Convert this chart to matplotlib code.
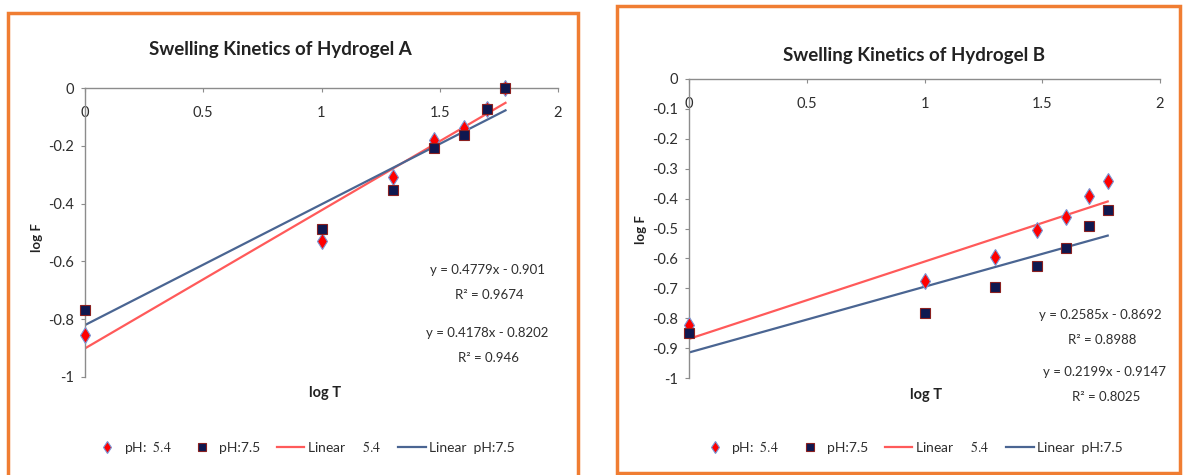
import matplotlib
matplotlib.use("Agg")
import matplotlib.pyplot as plt
from matplotlib.patches import Rectangle
from matplotlib.ticker import FuncFormatter

plt.rcParams['font.family'] = ['Lato', 'DejaVu Sans']
plt.rcParams['axes.unicode_minus'] = False
plt.rcParams['mathtext.fontset'] = 'stix'

# log of time (min): 1, 10, 20, 30, 40, 50, 60
log_t = [0, 1, 1.301, 1.477, 1.602, 1.699, 1.778]

# Hydrogel A
a_ph54 = [-0.855, -0.531, -0.308, -0.180, -0.140, -0.072, 0.0]
a_ph75 = [-0.767, -0.488, -0.352, -0.209, -0.163, -0.073, 0.0]
a_fit54 = (0.4779, -0.901, 0.9674)
a_fit75 = (0.4178, -0.8202, 0.946)

# Hydrogel B
b_ph54 = [-0.822, -0.677, -0.594, -0.504, -0.460, -0.391, -0.341]
b_ph75 = [-0.850, -0.783, -0.694, -0.627, -0.566, -0.493, -0.438]
b_fit54 = (0.2585, -0.8692, 0.8988)
b_fit75 = (0.2199, -0.9147, 0.8025)

W, H = 1186, 475
RED_PT = '#ff0000'
NAVY = '#0f1850'
RED_LINE = '#ff5a5a'
BLUE_LINE = '#4a6592'
GREY = '#8c8c8c'
ORANGE = '#f07d32'
TXT = '#222222'


def fx(px):
    return px / W


def fy(py):
    return 1 - py / H


def fmt(v, _):
    return '%g' % round(v, 2)


def fit_label(fit):
    m, c, r2 = fit
    return 'y = %gx - %g' % (m, abs(c)), 'R² = %g' % r2


def draw_panel(ax, y54, y75, fit54, fit75, ystep):
    xs = [log_t[0], log_t[-1]]
    ax.plot(xs, [fit54[0] * x + fit54[1] for x in xs], color=RED_LINE, lw=1.6,
            label=r'Linear     $\mathrm{5.4}$', zorder=2)
    ax.plot(xs, [fit75[0] * x + fit75[1] for x in xs], color=BLUE_LINE, lw=1.6,
            label='Linear  pH:7.5', zorder=2)
    ax.plot(log_t, y54, ls='none', marker='d', ms=8.5, mfc=RED_PT, mec='#7a96d6',
            mew=0.8, label=r'pH:  $\mathrm{5.4}$', zorder=3, clip_on=False)
    ax.plot(log_t, y75, ls='none', marker='s', ms=7.8, mfc=NAVY, mec='#8a2020',
            mew=0.8, label='pH:7.5', zorder=4, clip_on=False)

    ax.set_xlim(0, 2)
    ax.set_ylim(-1, 0)
    ax.set_xticks([0, 0.5, 1, 1.5, 2])
    n = int(round(1 / ystep))
    ax.set_yticks([-i * ystep for i in range(n + 1)])
    ax.xaxis.set_major_formatter(FuncFormatter(fmt))
    ax.yaxis.set_major_formatter(FuncFormatter(fmt))

    # x axis crosses at y = 0, which sits on top
    ax.spines['bottom'].set_position(('data', 0))
    ax.spines['top'].set_visible(False)
    ax.spines['right'].set_visible(False)
    for s in ('bottom', 'left'):
        ax.spines[s].set_color(GREY)
        ax.spines[s].set_linewidth(1.0)
    ax.tick_params(axis='both', colors=GREY, length=3, width=0.8,
                   labelcolor='#2e2e2e', labelsize=10.5)
    ax.tick_params(axis='x', pad=10)
    ax.tick_params(axis='y', pad=5)
    ax.set_facecolor('none')


fig = plt.figure(figsize=(W / 100, H / 100), dpi=100)

# orange chart borders
fig.patches.append(Rectangle((fx(8), fy(490)), fx(570), 477 / H, fill=False,
                             ec=ORANGE, lw=2.5, transform=fig.transFigure))
fig.patches.append(Rectangle((fx(617), fy(473)), fx(563), 467 / H, fill=False,
                             ec=ORANGE, lw=2.5, transform=fig.transFigure))

ax1 = fig.add_axes([fx(85), fy(377), fx(473), 289 / H])
draw_panel(ax1, a_ph54, a_ph75, a_fit54, a_fit75, 0.2)
ax2 = fig.add_axes([fx(689), fy(378), fx(471), 299 / H])
draw_panel(ax2, b_ph54, b_ph75, b_fit54, b_fit75, 0.1)

# titles and axis labels
fig.text(fx(280), fy(50), 'Swelling Kinetics of Hydrogel A', ha='center',
         va='center', fontsize=13.5, fontweight='bold', color=TXT)
fig.text(fx(914), fy(55), 'Swelling Kinetics of Hydrogel B', ha='center',
         va='center', fontsize=13.5, fontweight='bold', color=TXT)
for x, y in [(325, 393), (926, 395)]:
    fig.text(fx(x), fy(y), 'log T', ha='center', va='center', fontsize=10.5,
             fontweight='bold', color=TXT)
for x, y in [(37, 238), (641, 230)]:
    fig.text(fx(x), fy(y), 'log F', ha='center', va='center', fontsize=9.5,
             fontweight='bold', rotation=90, color=TXT)

# trendline equations
eq_pos = [(a_fit54, 487, 270), (a_fit75, 487, 333),
          (b_fit54, 1100, 315), (b_fit75, 1104, 372)]
for fit, x, y in eq_pos:
    eq, r2 = fit_label(fit)
    fig.text(fx(x), fy(y), eq, ha='center', va='center', fontsize=9.5, color='#2e2e2e')
    fig.text(fx(x + 2), fy(y + 25), r2, ha='center', va='center', fontsize=9.5,
             color='#2e2e2e')

# legends along the bottom
for ax, x0 in [(ax1, 86), (ax2, 694)]:
    h, l = ax.get_legend_handles_labels()
    order = [2, 3, 0, 1]
    ax.legend([h[i] for i in order], [l[i] for i in order], ncol=4,
              loc='center left', bbox_to_anchor=(fx(x0), fy(447)),
              bbox_transform=fig.transFigure, frameon=False, fontsize=10,
              handlelength=2.0, handletextpad=0.2, columnspacing=1.2,
              borderpad=0, labelcolor='#2e2e2e', markerscale=0.7)

fig.savefig('out.png', dpi=100)
